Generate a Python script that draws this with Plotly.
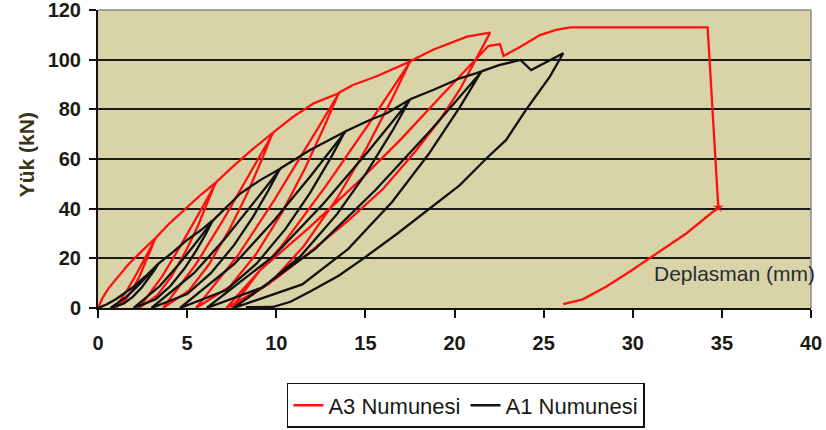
import plotly.graph_objects as go

# Load-displacement records of the two specimens (Deplasman in mm, Yük in kN)
red_x = [0, 0.25, 0.6, 1.1, 1.7, 2.4, 3.2,
         2.98, 2.67, 2.32, 1.90, 1.48, 0.95,
         1.62, 2.18, 2.70, 3.00, 3.25,
         4.0, 4.9, 5.8, 6.6,
         6.18, 5.59, 4.91, 4.11, 3.32, 2.3,
         3.59, 4.65, 5.65, 6.22, 6.65,
         7.5, 8.6, 9.8,
         9.20, 8.35, 7.38, 6.23, 5.11, 3.65,
         5.49, 7.01, 8.44, 9.26, 9.85,
         10.95, 12.1, 13.5,
         12.72, 11.61, 10.36, 8.86, 7.40, 5.5,
         7.89, 9.88, 11.73, 12.80, 13.55,
         14.3, 15.6, 16.9, 17.5,
         16.50, 15.07, 13.45, 11.53, 9.64, 7.2,
         10.28, 12.83, 15.22, 16.59, 17.55,
         18.8, 19.7, 20.7, 22.0,
         21.2, 20.3, 19.2, 17.8, 16.0, 14.0, 11.8, 10.0, 8.5, 7.5,
         9.1, 11.9, 14.7, 17.0, 19.2, 20.8, 21.9,
         22.55, 22.75, 23.7, 24.8, 25.7, 26.5, 34.2, 34.8,
         33.0, 31.1, 29.8, 28.5, 27.2, 26.1]
red_y = [0, 4, 8, 12.5, 17.5, 22.5, 28,
         23.8, 18.2, 12.6, 7.0, 2.8, 0,
         7.0, 14.0, 21.0, 25.2, 28.3,
         34, 40, 45.8, 50.5,
         42.9, 32.8, 22.7, 12.6, 5.05, 0,
         12.6, 25.3, 37.9, 45.5, 50.8,
         56.5, 63.5, 70.5,
         59.9, 45.8, 31.7, 17.6, 7.05, 0,
         17.6, 35.3, 52.9, 63.5, 70.8,
         77, 82.4, 86.5,
         73.5, 56.2, 38.9, 21.6, 8.65, 0,
         21.6, 43.3, 64.9, 77.9, 86.8,
         89.8, 93.2, 97.2, 99.2,
         84.3, 64.5, 44.6, 24.8, 9.9, 0,
         24.8, 49.6, 74.4, 89.3, 99.5,
         104, 106.5, 109.3, 110.9,
         100, 88, 76, 63, 48, 35, 22, 12, 4.5, 0,
         15.3, 32.7, 51.5, 68, 85, 97, 105.5,
         106.3, 101.5, 105.2, 109.9, 112, 113, 113, 40.5,
         30, 20.7, 14.5, 8.6, 3.5, 1.6]

black_x = [0, 0.5, 1.0, 2.0, 2.7, 3.4,
           3.17, 2.82, 2.43, 1.95, 1.45, 0.7,
           1.59, 2.25, 2.84, 3.18, 3.45,
           4.2, 5.0, 5.8, 6.45,
           6.07, 5.50, 4.85, 4.06, 3.24, 2.0,
           3.47, 4.55, 5.53, 6.09, 6.5,
           8.0, 9.1, 10.2,
           9.58, 8.67, 7.62, 6.33, 5.0, 3.0,
           5.38, 7.13, 8.72, 9.62, 10.25,
           11.9, 13.85,
           13.05, 11.88, 10.53, 8.88, 7.17, 4.6,
           7.65, 9.91, 11.94, 13.10, 13.9,
           15.25, 16.2, 17.5,
           16.52, 15.07, 13.41, 11.38, 9.27, 6.1,
           9.86, 12.64, 15.15, 16.58, 17.55,
           18.8, 20.3, 21.5,
           20.30, 18.54, 16.51, 14.04, 11.46, 7.6,
           12.19, 15.58, 18.64, 20.37, 21.55,
           22.5, 23.7, 24.3, 25.2, 26.1,
           25.35, 24.0, 22.9, 21.8, 20.3, 18.6, 16.8, 14.9, 13.5, 11.9, 10.8, 9.8, 8.3]
black_y = [0, 1.5, 3.5, 8.6, 13, 18,
           15.3, 11.7, 8.1, 4.5, 1.8, 0,
           4.5, 9.0, 13.5, 16.2, 18.2,
           22.5, 27.4, 31.5, 35.4,
           30.1, 23.0, 15.9, 8.85, 3.54, 0,
           8.85, 17.7, 26.55, 31.9, 35.6,
           46.2, 51.5, 56,
           47.6, 36.4, 25.2, 14, 5.6, 0,
           14, 28, 42, 50.4, 56.3,
           63.6, 71,
           60.35, 46.15, 31.95, 17.75, 7.1, 0,
           17.75, 35.5, 53.25, 63.9, 71.2,
           75.7, 78.4, 84,
           71.4, 54.6, 37.8, 21, 8.4, 0,
           21, 42, 63, 75.6, 84.2,
           87.8, 92.5, 95.2,
           80.9, 61.9, 42.8, 23.8, 9.5, 0,
           23.8, 47.6, 71.4, 85.7, 95.4,
           97.8, 99.9, 95.8, 99.3, 102.6,
           93.2, 79.7, 67.7, 60.3, 49.5, 40.1, 30, 20, 13, 6.6, 2.5, 0.4, 0.3]

x_ticks = [0, 5, 10, 15, 20, 25, 30, 35, 40]
y_ticks = [0, 20, 40, 60, 80, 100, 120]

series_names = ["A3 Numunesi", "A1 Numunesi"]
x_title = "Deplasman (mm)"
y_title = "Yük (kN)"

FONT = "Liberation Sans, Arial, sans-serif"
TEXT = "#1a1a15"

fig = go.Figure()
fig.add_trace(go.Scatter(x=red_x, y=red_y, mode="lines", name=series_names[0],
                         line=dict(color="#ff1010", width=2.3)))
fig.add_trace(go.Scatter(x=black_x, y=black_y, mode="lines", name=series_names[1],
                         line=dict(color="#111111", width=2.3)))

# small marker at the point where the A3 record turns back (largest displacement)
k = red_x.index(max(red_x))
fig.add_trace(go.Scatter(x=[red_x[k]], y=[red_y[k]], mode="markers", showlegend=False,
                         marker=dict(symbol="star", size=8, color="#ff1010")))

fig.update_layout(
    width=826, height=430,
    margin=dict(l=98, r=15, t=10, b=122, autoexpand=False),
    paper_bgcolor="white",
    plot_bgcolor="#d9d4a8",
    font=dict(family=FONT, size=20, color=TEXT),
    showlegend=True,
    legend=dict(orientation="h", x=0.516, xanchor="center", y=-0.327, yanchor="middle",
                bordercolor="#111111", borderwidth=1.5, bgcolor="white",
                font=dict(family=FONT, size=22, color=TEXT),
                itemwidth=30, tracegroupgap=0),
    xaxis=dict(range=[0, 40], tickvals=x_ticks, ticks="outside", ticklen=8,
               tickwidth=1.5, tickcolor="#111111", showline=True, linecolor="#111111",
               linewidth=2, showgrid=False, zeroline=False, ticklabelstandoff=8,
               automargin=False, ticklabeloverflow="allow",
               tickfont=dict(family=FONT, size=20, color=TEXT, weight="bold")),
    yaxis=dict(range=[0, 120], tickvals=y_ticks, ticks="outside", ticklen=7,
               tickwidth=1.5, tickcolor="#111111", showline=True, linecolor="#111111",
               linewidth=2, showgrid=True, gridcolor="#1a1a1a", gridwidth=2,
               zeroline=False, ticklabelstandoff=4, automargin=False,
               ticklabeloverflow="allow",
               tickfont=dict(family=FONT, size=20, color=TEXT, weight="bold")),
    shapes=[
        dict(type="line", xref="paper", yref="paper", x0=0, x1=1, y0=1, y1=1,
             line=dict(color="#8a8a8a", width=1.5), layer="above"),
        dict(type="line", xref="paper", yref="paper", x0=1, x1=1, y0=0, y1=1,
             line=dict(color="#8a8a8a", width=1.5), layer="above"),
    ],
    annotations=[
        dict(text=y_title, xref="paper", yref="paper", x=-0.1, y=0.515,
             textangle=-90, showarrow=False, xanchor="center", yanchor="middle",
             font=dict(family=FONT, size=21, color="#3a3320", weight="bold")),
        dict(text=x_title, xref="paper", yref="paper", x=0.893, y=0.117,
             showarrow=False, xanchor="center", yanchor="middle",
             font=dict(family=FONT, size=21, color="#2a2a35")),
    ],
)

fig.write_html("out.html")
